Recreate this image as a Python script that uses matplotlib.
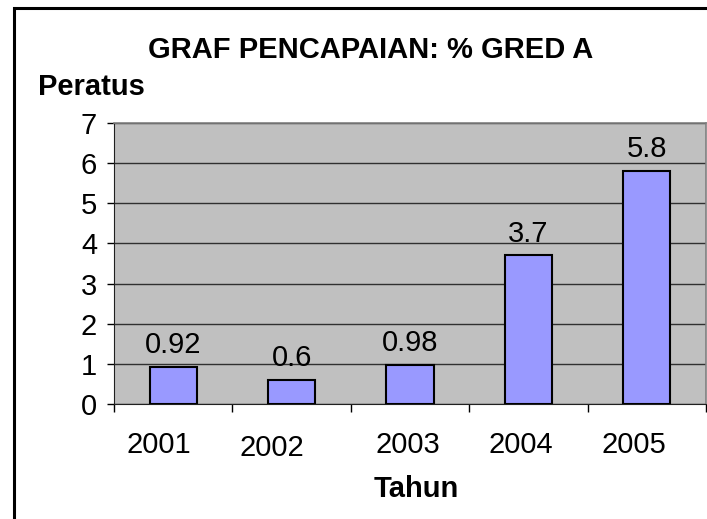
import matplotlib
matplotlib.use("Agg")
import matplotlib.pyplot as plt
import matplotlib.transforms as mtransforms
from matplotlib.patches import Rectangle
import numpy as np

years = ["2001", "2002", "2003", "2004", "2005"]
values = [0.92, 0.6, 0.98, 3.7, 5.8]
value_labels = ["0.92", "0.6", "0.98", "3.7", "5.8"]

plt.rcParams['font.family'] = ['Liberation Sans', 'DejaVu Sans']
FS = 21

W, H = 707, 519
fig = plt.figure(figsize=(W / 100, H / 100), dpi=100)

# chart area border (right/bottom edges fall outside the picture)
fig.patches.append(Rectangle((14 / W, -0.1), 1.2, 1 - 8 / H + 0.1,
                             transform=fig.transFigure, fill=False,
                             edgecolor='black', linewidth=2.2))

ax = fig.add_axes([114 / W, 1 - 404 / H, 592 / W, 281 / H])
ax.set_facecolor('#c0c0c0')

x = np.arange(len(years))
ax.bar(x, values, width=0.4, color='#9999ff', edgecolor='black', linewidth=1.5, zorder=3)

for xi, v, lab in zip(x, values, value_labels):
    ax.annotate(lab, (xi, v), xytext=(0, 10), textcoords='offset points',
                ha='center', va='baseline', fontsize=FS, zorder=4)

ax.set_xlim(-0.5, len(years) - 0.5)
ax.set_ylim(0, 7)
ax.set_yticks(range(0, 8))
ax.yaxis.grid(True, color='#303030', linewidth=1.0, zorder=1)
ax.set_axisbelow(True)

ax.set_xticks(x)
ax.set_xticklabels(years, va='baseline')
ax.set_xticks(np.arange(-0.5, len(years), 1), minor=True)
ax.tick_params(axis='x', which='major', length=0, pad=35.3, labelsize=FS)
ax.tick_params(axis='x', which='minor', length=6, width=1, direction='out')
ax.tick_params(axis='y', length=5, width=1, direction='out', pad=7.2, labelsize=FS)

# Excel staggered the year labels a little
shifts = [(-14, 0), (-19.5, -3), (-2, 0), (-8, 0), (-13, 0)]
for lab, (dx, dy) in zip(ax.get_xticklabels(), shifts):
    lab.set_transform(lab.get_transform() +
                      mtransforms.ScaledTranslation(dx / 100, dy / 100, fig.dpi_scale_trans))

for side in ['top', 'right']:
    ax.spines[side].set_color('#808080')
    ax.spines[side].set_linewidth(1.2)
ax.spines['left'].set_color('#202020')
ax.spines['bottom'].set_color('#202020')

fig.text(370.5 / W, 1 - 57.5 / H, "GRAF PENCAPAIAN: % GRED A", ha='center', va='baseline',
         fontsize=FS, fontweight='bold')
fig.text(38 / W, 1 - 95 / H, "Peratus", ha='left', va='baseline',
         fontsize=FS, fontweight='bold')
fig.text(416.5 / W, 1 - 497 / H, "Tahun", ha='center', va='baseline',
         fontsize=FS, fontweight='bold')

fig.savefig("out.png", dpi=100)
